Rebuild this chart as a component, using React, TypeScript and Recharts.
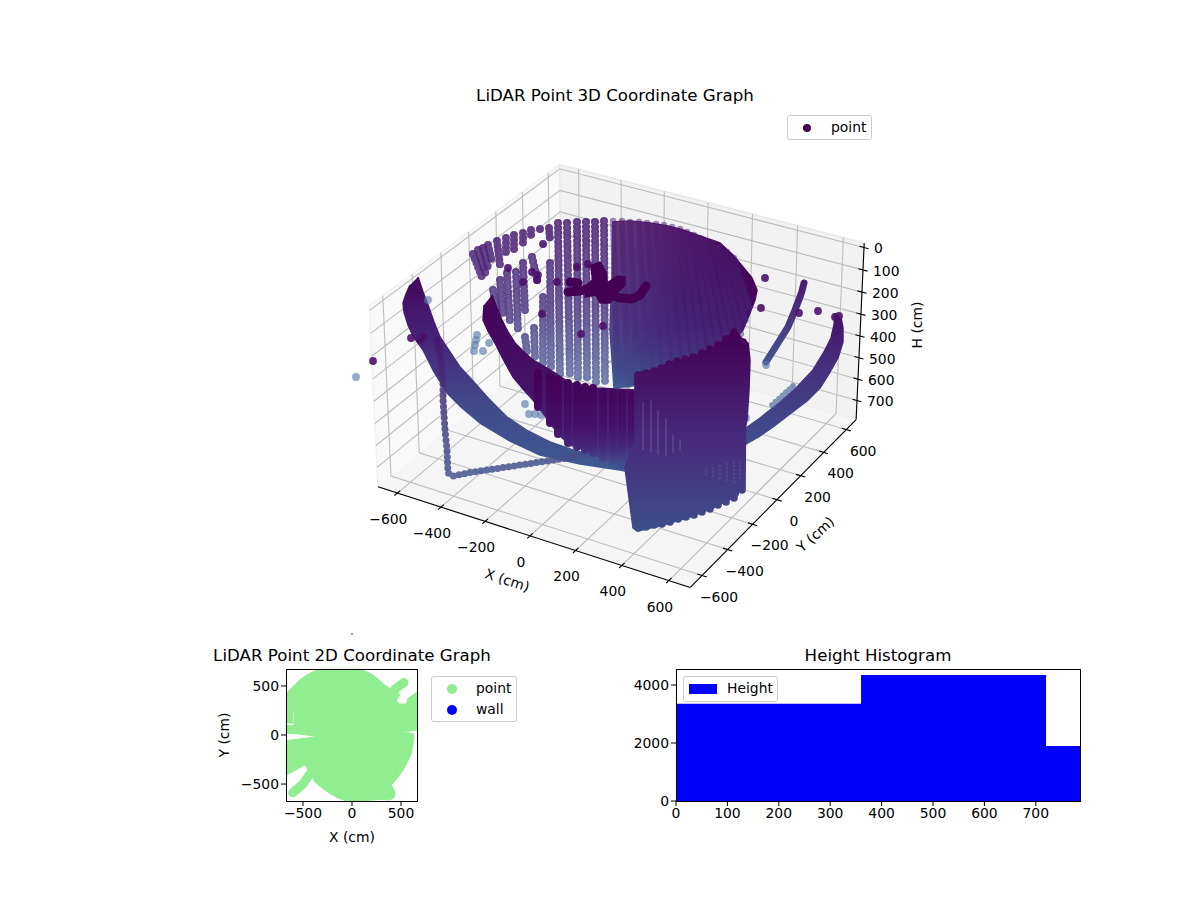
import React from 'react';
import { Area, AreaChart, Scatter, ScatterChart, XAxis, YAxis, Label } from 'recharts';

type Pt = [number, number];

// 3D axes: tick values and limits, in cm
const xTicks = [-600, -400, -200, 0, 200, 400, 600];
const yTicks = [-600, -400, -200, 0, 200, 400, 600];
const hTicks = [0, 100, 200, 300, 400, 500, 600, 700];
const xyLimit = 690;
const hLimits = [-20, 790];

// point cloud in its projected plane
const leftArcBand: Pt[] = [[418, 277], [423, 292], [428, 305], [434, 322], [440, 337], [450, 352], [460, 367], [473, 381], [489, 399], [507, 417], [528, 431], [550, 442], [573, 450], [600, 457], [632, 462], [630, 472], [620, 470], [580, 464], [540, 455], [510, 441], [480, 423], [462, 408], [447, 393], [433, 370], [423, 350], [413, 336], [408, 325], [404, 312], [403, 303], [406, 294], [410, 285]];
const rightArcBand: Pt[] = [[835, 313], [834, 325], [831, 338], [824, 352], [813, 370], [797, 387], [780, 402], [760, 418], [743, 430], [742, 446], [760, 436], [773, 427], [790, 414], [807, 401], [820, 388], [830, 372], [838, 358], [843, 342], [843, 328], [841, 318]];
const rightArcPale: Pt[] = [[793, 386], [770, 407]];
const smallArc: Pt[] = [[804, 283], [802, 291], [800, 297], [795, 310], [788, 327], [778, 343], [766, 362]];
const leftChain: Pt[] = [[437, 340], [441, 360], [443, 380], [443, 400], [445, 430], [447, 450], [448, 473], [453, 476], [473, 472], [507, 467], [540, 462], [567, 458], [600, 452]];
const rimColumns: Pt[][] = [
  [[473, 254], [482, 277]], [[478, 250], [486, 275]], [[483, 248], [488, 268]], [[488, 245], [492, 262]], [[497, 241], [500, 265]], [[506, 238], [506, 253]], [[514, 235], [514, 252]],
  [[523, 233], [523, 246]], [[531, 230], [531, 235]], [[540, 229], [540, 233]], [[549, 228], [550, 240]],
];
const wallColumns: Pt[][] = [
  [[493, 290], [497, 310]], [[500, 280], [503, 315]], [[507, 273], [510, 322]], [[516, 272], [518, 332]], [[523, 263], [525, 310]],
  [[525, 337], [527, 352]], [[532, 257], [538, 283]], [[534, 328], [535, 357]], [[543, 297], [543, 363]], [[550, 263], [551, 368]],
  [[558, 223], [560, 375]], [[567, 223], [570, 377]], [[577, 222], [578, 378]], [[586, 222], [587, 380]], [[595, 222], [596, 383]], [[604, 221], [605, 385]],
];
const coneOutline: Pt[] = [[612, 222], [630, 221], [650, 223], [668, 226], [683, 230], [700, 236], [720, 243], [733, 255], [743, 267], [752, 278], [757, 290], [755, 300], [750, 313], [743, 330], [725, 350], [700, 370], [670, 380], [640, 385], [614, 388], [610, 330], [611, 300]];
const coneColumns: Pt[][] = [
  [[613, 221], [618, 388]], [[622, 221], [628, 388]], [[630, 222], [638, 387]], [[639, 222], [648, 386]], [[647, 223], [658, 385]],
  [[656, 224], [668, 383]], [[664, 225], [678, 381]], [[672, 227], [688, 377]], [[680, 229], [697, 373]], [[687, 232], [705, 370]],
  [[694, 235], [714, 365]], [[700, 238], [722, 358]], [[706, 241], [730, 352]], [[713, 243], [736, 344]], [[720, 247], [741, 334]], [[727, 252], [746, 322]], [[734, 258], [750, 310]],
];
const bowlBand: Pt[] = [[492, 295], [497, 308], [502, 320], [508, 332], [515, 343], [524, 352], [533, 360], [550, 370], [570, 383], [597, 388], [635, 390], [636, 462], [620, 463], [600, 457], [585, 450], [570, 445], [560, 436], [553, 427], [543, 413], [533, 400], [523, 389], [513, 377], [503, 359], [495, 343], [488, 331], [483, 320], [484, 305]];
const bowlColumns: Pt[][] = [
  [[538, 373], [538, 407]], [[550, 377], [550, 423]], [[558, 380], [558, 434]], [[568, 383], [568, 443]], [[577, 385], [577, 447]], [[585, 387], [585, 450]],
  [[593, 388], [593, 453]], [[603, 392], [603, 459]], [[613, 393], [613, 462]], [[622, 393], [622, 465]], [[632, 395], [632, 465]],
];
const cylinderOutline: Pt[] = [[635, 373], [653, 370], [672, 362], [693, 357], [713, 348], [725, 340], [735, 330], [743, 340], [748, 343], [750, 360], [749, 390], [747, 420], [743, 437], [742, 483], [738, 495], [713, 508], [687, 518], [663, 525], [638, 531], [633, 528], [625, 468], [635, 440]];
const cylinderColumns: Pt[][] = [
  [[638, 375], [638, 528]], [[646, 373], [646, 527]], [[654, 371], [654, 525]], [[661, 368], [662, 524]], [[669, 364], [670, 522]], [[677, 361], [678, 519]], [[685, 359], [686, 517]],
  [[693, 357], [694, 515]], [[702, 353], [702, 512]], [[710, 349], [710, 509]], [[718, 345], [718, 505]], [[726, 339], [726, 502]], [[734, 332], [734, 498]], [[743, 342], [742, 490]],
];
const cylinderSlivers: Pt[][] = [
  [[643, 402], [643, 450]], [[651, 400], [651, 452]], [[658, 410], [658, 455]], [[666, 418], [666, 456]], [[673, 435], [673, 453]], [[680, 440], [680, 450]],
];
const cylinderSpeckles: Pt[][] = [
  [[706, 470], [706, 476]], [[713, 468], [713, 477]], [[720, 466], [720, 482]], [[727, 464], [727, 484]], [[734, 462], [734, 483]], [[740, 462], [740, 480]],
];
const blobMass: Pt[] = [[590, 266], [600, 262], [606, 272], [607, 283], [618, 276], [625, 277], [625, 285], [615, 295], [610, 303], [600, 303], [596, 295], [585, 297], [587, 285], [592, 280]];
const blobStrokes: Pt[][] = [
  [[568, 292], [580, 291], [592, 287]],
  [[608, 294], [620, 298], [632, 299], [640, 295], [646, 286]],
  [[570, 282], [578, 283]],
];
const darkDots: Pt[] = [[373, 361], [411, 338], [420, 340], [423, 337], [765, 278], [761, 308], [799, 313], [818, 311], [835, 317], [839, 316], [508, 268], [532, 272], [538, 275], [537, 280], [523, 282], [557, 282], [577, 267], [588, 264], [542, 314], [603, 326], [581, 334], [543, 244]];
const paleDots: Pt[] = [[356, 377], [428, 300], [477, 335], [476, 340], [475, 345], [474, 351], [483, 351], [489, 343], [525, 404], [529, 414], [535, 414], [541, 415], [766, 365], [746, 418]];
const strayMark: Pt[] = [[352, 634]];

// 2D graph outline and the two arms sticking out of it, cm
const footprint: Pt[] = [[-670, 425], [-600, 495], [-534, 561], [-465, 608], [-398, 646], [-330, 670], [78, 670], [150, 645], [214, 612], [275, 562], [333, 510], [384, 476], [440, 480], [486, 408], [452, 350], [486, 316], [554, 316], [571, 374], [622, 408], [656, 435], [673, 425], [673, 51], [486, 27], [622, 17], [632, -20], [629, -51], [605, -187], [565, -275], [520, -357], [465, -435], [401, -510], [442, -595], [425, -640], [384, -663], [299, -656], [190, -665], [78, -673], [-58, -673], [-145, -640], [-228, -595], [-305, -540], [-381, -476], [-432, -374], [-449, -357], [-479, -306], [-670, -408], [-670, -58], [-347, -17], [-534, 10], [-670, 17], [-670, 102], [-592, 95], [-587, 238], [-600, 240], [-604, 118], [-670, 126]];
const footprintArms: Pt[][] = [
  [[-432, -400], [-500, -500], [-605, -590]],
  [[430, 460], [480, 500], [530, 535]],
];
const footprintTicks = [-500, 0, 500];

// histogram
const binEdges = [0, 360, 720, 786];
const binCounts = [3355, 4345, 1897, 1897];
const histXTicks = [0, 100, 200, 300, 400, 500, 600, 700];
const histYTicks = [0, 2000, 4000];

const FONT = '"DejaVu Sans", sans-serif';
const TICK_PX = 13.9;
const TITLE_PX = 16.67;

// same camera as the original 3D axes: elev 30, azim -60, dist 10
const project = (x: number, y: number, h: number) => {
  const rx = ((x + xyLimit) / (2 * xyLimit)) * 1.19 - 0.595;
  const ry = ((y + xyLimit) / (2 * xyLimit)) * 1.19 - 0.595;
  const rz = ((hLimits[1] - h) / (hLimits[1] - hLimits[0])) * 0.69 - 0.345;
  const u = 0.866 * rx + 0.5 * ry;
  const v = -0.25 * rx + 0.433 * ry + 0.866 * rz;
  const d = 10 - (0.433 * rx - 0.75 * ry + 0.5 * rz);
  return { x: 621.5 + (2991 * u) / d, y: 364.7 - (2991 * v) / d };
};

const lo = -xyLimit;
const hi = xyLimit;
const top = hLimits[0];
const bot = hLimits[1];

const toPoints = (pts: Pt[]) => pts.map(([x, y]) => ({ x, y }));
const noDot = () => <g />;

// a polyline or filled outline drawn by the Scatter's own line
const trace = (key: string, data: { x: number; y: number }[], line: Record<string, unknown>) => (
  <Scatter key={key} data={data} line={line} shape={noDot} isAnimationActive={false} legendType="none" />
);
const disc = (r: number, fill: string, opacity: number) => (p: any) => <circle cx={p.cx} cy={p.cy} r={r} fill={fill} fillOpacity={opacity} />;
const tickText = (anchor: string, dx: number, dy: number) => (p: any) => (
  <text x={p.cx + dx} y={p.cy + dy} textAnchor={anchor} dominantBaseline="central" fontSize={TICK_PX} fontFamily={FONT} fill="#000">
    {String(p.payload.value).replace('-', '\u2212')}
  </text>
);

const dotted = (stroke: string, opacity = 1, width = 8, gap = 4.7) => ({ stroke, strokeWidth: width, strokeDasharray: `0 ${gap}`, strokeLinecap: 'round', strokeOpacity: opacity, fill: 'none' });
const solid = (stroke: string, width: number) => ({ stroke, strokeWidth: width, strokeLinecap: 'round', strokeLinejoin: 'round', fill: 'none' });
const filled = (fill: string, stroke = fill) => ({ fill, stroke, strokeWidth: 1.5, strokeLinejoin: 'round' });

const Fade = ({ id, y1, y2, stops }: { id: string; y1: number; y2: number; stops: [number, string][] }) => (
  <linearGradient id={id} gradientUnits="userSpaceOnUse" x1={0} x2={0} y1={y1} y2={y2}>
    {stops.map(([o, c]) => <stop key={o} offset={o} stopColor={c} />)}
  </linearGradient>
);

const Caption = ({ x, y, size = TICK_PX, rotate = 0, children }: any) => (
  <div style={{ position: 'absolute', left: x, top: y, transform: `translate(-50%,-50%) rotate(${rotate}deg)`, fontSize: size, whiteSpace: 'nowrap', color: '#000', lineHeight: 1 }}>
    {children}
  </div>
);

const LegendBox = ({ x, y, w, h, rows }: any) => (
  <div style={{ position: 'absolute', left: x, top: y, width: w, height: h, boxSizing: 'border-box', background: 'rgba(255,255,255,0.8)', border: '1px solid #ccc', borderRadius: 3 }}>
    {rows.map((r: any) => (
      <React.Fragment key={r.text}>
        <div style={{ position: 'absolute', left: r.mx, top: r.my, transform: 'translate(-50%,-50%)', width: r.w ?? r.size, height: r.h ?? r.size, borderRadius: r.w ? 0 : '50%', background: r.color }} />
        <div style={{ position: 'absolute', left: r.tx, top: r.my, transform: 'translateY(-50%)', fontSize: TICK_PX, lineHeight: 1, color: '#000' }}>{r.text}</div>
      </React.Fragment>
    ))}
  </div>
);

const Frame = ({ x, y, w, h }: any) => (
  <div style={{ position: 'absolute', left: x, top: y, width: w, height: h, boxSizing: 'border-box', border: '1px solid #000', pointerEvents: 'none' }} />
);

const histData = binEdges.map((edge, i) => ({ edge, count: binCounts[i] }));

const Lidar3D = () => {
  const leftWall = [project(lo, lo, bot), project(lo, lo, top), project(lo, hi, top), project(lo, hi, bot)];
  const rightWall = [project(lo, hi, bot), project(lo, hi, top), project(hi, hi, top), project(hi, hi, bot)];
  const floor = [project(lo, lo, bot), project(hi, lo, bot), project(hi, hi, bot), project(lo, hi, bot)];
  const GRID = { stroke: '#bdbdbd', strokeWidth: 1.1, fill: 'none' };
  const AXIS = { stroke: '#000', strokeWidth: 1.1, fill: 'none' };
  const t = 20;
  return (
    <ScatterChart width={1200} height={900} margin={{ top: 0, right: 0, bottom: 0, left: 0 }} style={{ position: 'absolute', left: 0, top: 0 }}>
      <XAxis type="number" dataKey="x" domain={[0, 1200]} hide />
      <YAxis type="number" dataKey="y" domain={[0, 900]} reversed hide />
      <defs>
        <Fade id="arcL" y1={285} y2={470} stops={[[0, '#440a5e'], [0.3, '#46257a'], [0.65, '#424a8a'], [1, '#3d5a92']]} />
        <Fade id="arcR" y1={315} y2={445} stops={[[0, '#45106a'], [0.4, '#46307e'], [1, '#3e4f8b']]} />
        <Fade id="chain" y1={340} y2={475} stops={[[0, '#48186c'], [1, '#44568f']]} />
        <Fade id="small" y1={283} y2={362} stops={[[0, '#4a1c72'], [1, '#43558f']]} />
        <Fade id="rim" y1={228} y2={280} stops={[[0, '#4a1c72'], [1, '#4f2a7c']]} />
        <Fade id="wall" y1={222} y2={385} stops={[[0, '#4a1c72'], [0.55, '#4d3a84'], [1, '#5a70a4']]} />
        <linearGradient id="cone" gradientUnits="userSpaceOnUse" x1={720} y1={250} x2={618} y2={392}>
          <stop offset={0} stopColor="#440356" />
          <stop offset={0.6} stopColor="#46287a" />
          <stop offset={0.88} stopColor="#424a8a" />
          <stop offset={1} stopColor="#3f5f95" />
        </linearGradient>
        <linearGradient id="sheen" gradientUnits="userSpaceOnUse" x1={612} y1={225} x2={690} y2={300}>
          <stop offset={0} stopColor="#ffffff" stopOpacity={0.16} />
          <stop offset={1} stopColor="#ffffff" stopOpacity={0} />
        </linearGradient>
        <Fade id="coneCols" y1={222} y2={388} stops={[[0, '#4a1a70'], [0.65, '#452c7a'], [1, '#40588f']]} />
        <Fade id="bowl" y1={300} y2={465} stops={[[0, '#44045a'], [0.55, '#451468'], [0.85, '#46267a'], [1, '#3f4f8b']]} />
        <Fade id="bowlCols" y1={373} y2={465} stops={[[0, '#430054'], [0.6, '#45126a'], [0.8, '#46267a'], [1, '#3f4f8b']]} />
        <Fade id="cyl" y1={340} y2={530} stops={[[0, '#440356'], [0.5, '#47287a'], [0.8, '#433f84'], [1, '#3c4f8b']]} />
      </defs>

      {trace('pane-l', leftWall, { ...filled('#f9f9f9', '#f2f2f2') })}
      {trace('pane-r', rightWall, { ...filled('#f2f2f2', '#e9e9e9') })}
      {trace('pane-f', floor, { ...filled('#f5f5f5', '#eeeeee') })}

      {xTicks.map((v) => trace(`gx${v}`, [project(v, lo, bot), project(v, hi, bot), project(v, hi, top)], GRID))}
      {yTicks.map((v) => trace(`gy${v}`, [project(hi, v, bot), project(lo, v, bot), project(lo, v, top)], GRID))}
      {hTicks.map((v) => trace(`gh${v}`, [project(lo, lo, v), project(lo, hi, v), project(hi, hi, v)], GRID))}

      {trace('ax-x', [project(lo, lo, bot), project(hi, lo, bot)], AXIS)}
      {trace('ax-y', [project(hi, lo, bot), project(hi, hi, bot)], AXIS)}
      {trace('ax-h', [project(hi, hi, top), project(hi, hi, bot)], AXIS)}
      {xTicks.map((v) => trace(`tx${v}`, [project(v, lo + t, bot), project(v, lo - t, bot)], AXIS))}
      {yTicks.map((v) => trace(`ty${v}`, [project(hi - t, v, bot), project(hi + t, v, bot)], AXIS))}
      {hTicks.map((v) => trace(`th${v}`, [project(hi - t, hi, v), project(hi + t, hi, v)], AXIS))}

      <Scatter data={xTicks.map((v) => ({ ...project(v, lo, bot), value: v }))} shape={tickText('middle', -9, 26)} isAnimationActive={false} legendType="none" />
      <Scatter data={yTicks.map((v) => ({ ...project(hi, v, bot), value: v }))} shape={tickText('middle', 17, 21)} isAnimationActive={false} legendType="none" />
      <Scatter data={hTicks.map((v) => ({ ...project(hi, hi, v), value: v }))} shape={tickText('start', 10, 1)} isAnimationActive={false} legendType="none" />

      {trace('arcL', toPoints(leftArcBand), filled('url(#arcL)'))}
      {trace('arcR', toPoints(rightArcBand), filled('url(#arcR)'))}
      {trace('arcRp', toPoints(rightArcPale), dotted('#4f6fa2', 0.7, 6))}
      {trace('small', toPoints(smallArc), solid('url(#small)', 7))}
      {trace('chain', toPoints(leftChain), dotted('url(#chain)', 0.85, 7, 5.6))}

      {rimColumns.map((c, i) => trace(`rim${i}`, toPoints(c), dotted('url(#rim)', 0.85)))}
      {wallColumns.map((c, i) => trace(`wall${i}`, toPoints(c), dotted('url(#wall)', 0.88)))}
      {wallColumns.map((c, i) => trace(`wallr${i}`, toPoints(c), dotted('#ffffff', 0.07, 4.5)))}

      {trace('cone', toPoints(coneOutline), filled('url(#cone)'))}
      {trace('sheen', toPoints(coneOutline), { fill: 'url(#sheen)', stroke: 'none' })}
      {coneColumns.map((c, i) => trace(`cone${i}`, toPoints(c), dotted('url(#coneCols)', 0.5, 6.5)))}

      <Scatter data={toPoints(darkDots)} shape={disc(3.9, '#4b0f6c', 0.9)} isAnimationActive={false} legendType="none" />
      <Scatter data={toPoints(paleDots)} shape={disc(3.9, '#5b7bad', 0.65)} isAnimationActive={false} legendType="none" />
      <Scatter data={toPoints(strayMark)} shape={disc(1.2, '#7fb3ad', 1)} isAnimationActive={false} legendType="none" />
      {trace('blob', toPoints(blobMass), filled('#440154'))}
      {blobStrokes.map((c, i) => trace(`blob${i}`, toPoints(c), solid('#440154', 9)))}

      {trace('bowl', toPoints(bowlBand), filled('url(#bowl)'))}
      {bowlColumns.map((c, i) => trace(`bowlc${i}`, toPoints(c), solid('url(#bowlCols)', 8)))}

      {trace('cyl', toPoints(cylinderOutline), filled('url(#cyl)'))}
      {cylinderColumns.map((c, i) => trace(`cylc${i}`, toPoints(c), solid('url(#cyl)', 7.6)))}
      {cylinderSlivers.map((c, i) => trace(`sliver${i}`, toPoints(c), { stroke: '#ffffff', strokeOpacity: 0.3, strokeWidth: 0.7, fill: 'none' }))}
      {cylinderSpeckles.map((c, i) => trace(`speck${i}`, toPoints(c), dotted('#8a7fb5', 0.2, 3, 4)))}
    </ScatterChart>
  );
};

const Footprint = () => (
  <ScatterChart width={182} height={186} margin={{ top: 5, right: 0, bottom: 0, left: 0 }} style={{ position: 'absolute', left: 236, top: 664 }}>
    <XAxis type="number" dataKey="x" domain={[-673, 673]} ticks={footprintTicks} height={49} tickSize={5} tick={{ fontSize: TICK_PX, fill: '#000', fontFamily: FONT }} stroke="#000" tickFormatter={(v) => String(v).replace('-', '\u2212')} axisLine={false}>
      <Label value="X (cm)" position="insideBottom" offset={8} style={{ fontSize: TICK_PX, fill: '#000', fontFamily: FONT }} />
    </XAxis>
    <YAxis type="number" dataKey="y" domain={[-673, 673]} ticks={footprintTicks} width={50} tickSize={5} tick={{ fontSize: TICK_PX, fill: '#000', fontFamily: FONT }} stroke="#000" tickFormatter={(v) => String(v).replace('-', '\u2212')} axisLine={false} />
    {trace('footprint', toPoints(footprint), { fill: '#90ee90', stroke: '#90ee90', strokeWidth: 1 })}
    {footprintArms.map((c, i) => trace(`arm${i}`, toPoints(c), solid('#90ee90', 9)))}
  </ScatterChart>
);

const HeightHistogram = () => (
  <AreaChart width={454} height={170} data={histData} margin={{ top: 5, right: 0, bottom: 0, left: 0 }} style={{ position: 'absolute', left: 626, top: 664 }}>
    <XAxis type="number" dataKey="edge" domain={[0, 786]} ticks={histXTicks} height={33} tickSize={5} tick={{ fontSize: TICK_PX, fill: '#000', fontFamily: FONT }} stroke="#000" axisLine={false} />
    <YAxis type="number" domain={[0, 4552]} ticks={histYTicks} width={50} tickSize={5} tick={{ fontSize: TICK_PX, fill: '#000', fontFamily: FONT }} stroke="#000" axisLine={false} />
    <Area type="stepAfter" dataKey="count" stroke="none" fill="#0000ff" fillOpacity={1} isAnimationActive={false} dot={false} activeDot={false} />
  </AreaChart>
);

export default function App() {
  return (
    <div style={{ position: 'absolute', left: 0, top: 0, width: 1200, height: 900, background: '#fff', fontFamily: FONT, overflow: 'hidden' }}>
      <Lidar3D />
      <Caption x={615} y={96} size={TITLE_PX}>LiDAR Point 3D Coordinate Graph</Caption>
      <Caption x={507} y={581} rotate={18}>X (cm)</Caption>
      <Caption x={816} y={535} rotate={-42}>Y (cm)</Caption>
      <Caption x={918} y={325} rotate={-90}>H (cm)</Caption>
      <LegendBox x={787} y={115} w={85} h={25} rows={[{ text: 'point', color: '#440154', size: 8, mx: 19, my: 12, tx: 43 }]} />

      <Footprint />
      <Frame x={286} y={669} w={132} h={133} />
      <Caption x={352} y={656} size={TITLE_PX}>LiDAR Point 2D Coordinate Graph</Caption>
      <Caption x={225} y={735} rotate={-90}>Y (cm)</Caption>
      <LegendBox x={431} y={676} w={86} h={46} rows={[
        { text: 'point', color: '#90ee90', size: 10, mx: 20, my: 12, tx: 44 },
        { text: 'wall', color: '#0000ff', size: 10, mx: 20, my: 33, tx: 44 },
      ]} />

      <HeightHistogram />
      <Frame x={676} y={669} w={405} h={133} />
      <Caption x={878} y={656} size={TITLE_PX}>Height Histogram</Caption>
      <LegendBox x={683} y={676} w={95} h={26} rows={[{ text: 'Height', color: '#0000ff', w: 28, h: 10, mx: 19, my: 12, tx: 43 }]} />
    </div>
  );
}
